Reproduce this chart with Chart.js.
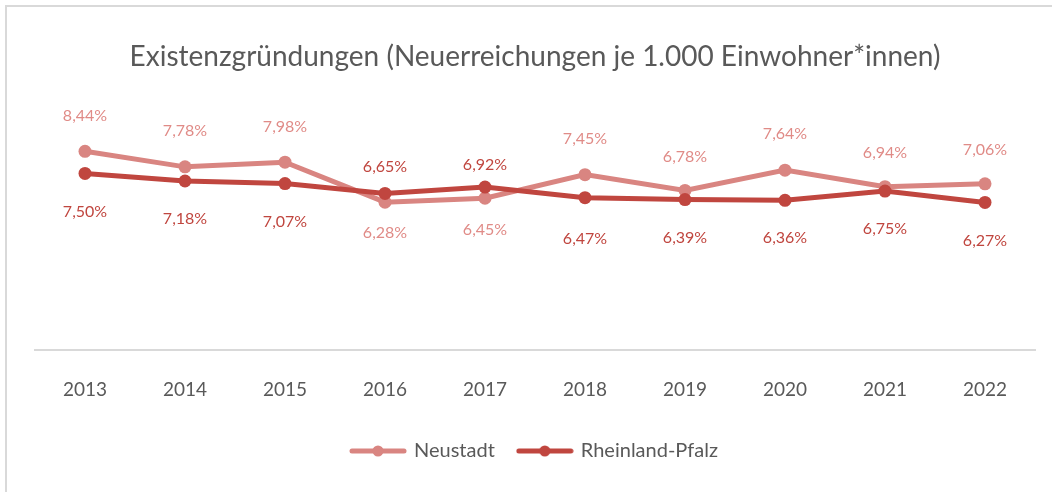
<!DOCTYPE html>
<html>
<head>
<meta charset="utf-8">
<script src="https://cdn.jsdelivr.net/npm/chart.js@4.4.0/dist/chart.umd.min.js"></script>
<style>
  html, body { margin: 0; padding: 0; background: #fff; }
  .frame { position: absolute; left: 5px; top: 5px; width: 1100px; height: 520px;
           border-left: 2px solid #d9d9d9; border-top: 2px solid #d9d9d9; }
  .wrap { position: absolute; left: 0; top: 0; width: 1052px; height: 492px; }
</style>
</head>
<body>
<div class="frame"></div>
<div class="wrap"><canvas id="chart"></canvas></div>
<script>
const years = ["2013", "2014", "2015", "2016", "2017", "2018", "2019", "2020", "2021", "2022"];
const neustadt = [8.44, 7.78, 7.98, 6.28, 6.45, 7.45, 6.78, 7.64, 6.94, 7.06];
const rlp = [7.50, 7.18, 7.07, 6.65, 6.92, 6.47, 6.39, 6.36, 6.75, 6.27];

const lightRed = "#d98581";
const darkRed = "#c0463f";
const grey = "#595959";
const font = "Lato, 'Open Sans', sans-serif";

// vertical shift of each value label from its point (px, negative = above)
const neustadtLabelDy = [-35, -36, -35, 31, 32, -36, -34, -36, -34, -34];
const rlpLabelDy = [38, 38, 38, -27, -22, 41, 38, 38, 38, 38];

// small line + dot image for the legend
function legendMark(color) {
  const c = document.createElement("canvas");
  c.width = 58; c.height = 14;
  const g = c.getContext("2d");
  g.strokeStyle = color;
  g.lineWidth = 5;
  g.lineCap = "round";
  g.beginPath(); g.moveTo(3, 7); g.lineTo(55, 7); g.stroke();
  g.fillStyle = color;
  g.beginPath(); g.arc(29, 7, 5.5, 0, Math.PI * 2); g.fill();
  return c;
}

const valueLabels = {
  id: "valueLabels",
  afterDatasetsDraw(chart) {
    const ctx = chart.ctx;
    ctx.save();
    ctx.font = "16px " + font;
    ctx.textAlign = "center";
    ctx.textBaseline = "middle";
    chart.data.datasets.forEach((ds, i) => {
      const meta = chart.getDatasetMeta(i);
      ctx.fillStyle = ds.labelColor;
      meta.data.forEach((pt, j) => {
        ctx.fillText(ds.data[j].toFixed(2).replace(".", ",") + "%", pt.x, pt.y + ds.labelDy[j]);
      });
    });
    ctx.restore();
  }
};

new Chart(document.getElementById("chart"), {
  type: "line",
  data: {
    labels: years,
    datasets: [
      {
        label: "Neustadt",
        data: neustadt,
        borderColor: lightRed,
        backgroundColor: lightRed,
        pointBackgroundColor: lightRed,
        labelColor: "#e08b87",
        labelDy: neustadtLabelDy,
        borderWidth: 5,
        pointRadius: 6.5,
        pointBorderWidth: 0,
        order: 1
      },
      {
        label: "Rheinland-Pfalz",
        data: rlp,
        borderColor: darkRed,
        backgroundColor: darkRed,
        pointBackgroundColor: darkRed,
        labelColor: darkRed,
        labelDy: rlpLabelDy,
        borderWidth: 5,
        pointRadius: 6.5,
        pointBorderWidth: 0,
        order: 0
      }
    ]
  },
  options: {
    responsive: true,
    maintainAspectRatio: false,
    animation: false,
    layout: { padding: { left: 35, right: 17, top: 0, bottom: 21 } },
    plugins: {
      title: {
        display: true,
        text: "Existenzgründungen (Neuerreichungen je 1.000 Einwohner*innen)",
        color: grey,
        font: { family: font, size: 28, weight: "normal" },
        padding: { top: 40, bottom: 41 }
      },
      legend: {
        position: "bottom",
        labels: {
          color: grey,
          font: { family: font, size: 20 },
          usePointStyle: true,
          pointStyleWidth: 52,
          padding: 24,
          generateLabels(chart) {
            return chart.data.datasets.map((ds, i) => ({
              text: ds.label,
              fontColor: grey,
              pointStyle: legendMark(ds.borderColor),
              datasetIndex: i,
              hidden: false,
              lineWidth: 0,
              strokeStyle: "transparent",
              fillStyle: ds.borderColor
            }));
          }
        }
      },
      tooltip: { enabled: false }
    },
    scales: {
      x: {
        offset: true,
        grid: { display: false },
        border: { color: "#d9d9d9", width: 2 },
        ticks: { color: grey, font: { family: font, size: 19 }, padding: 20 },
        afterFit(scale) { scale.height = 67; }
      },
      y: {
        display: false,
        min: 0,
        max: 10
      }
    }
  },
  plugins: [valueLabels]
});
</script>
</body>
</html>
